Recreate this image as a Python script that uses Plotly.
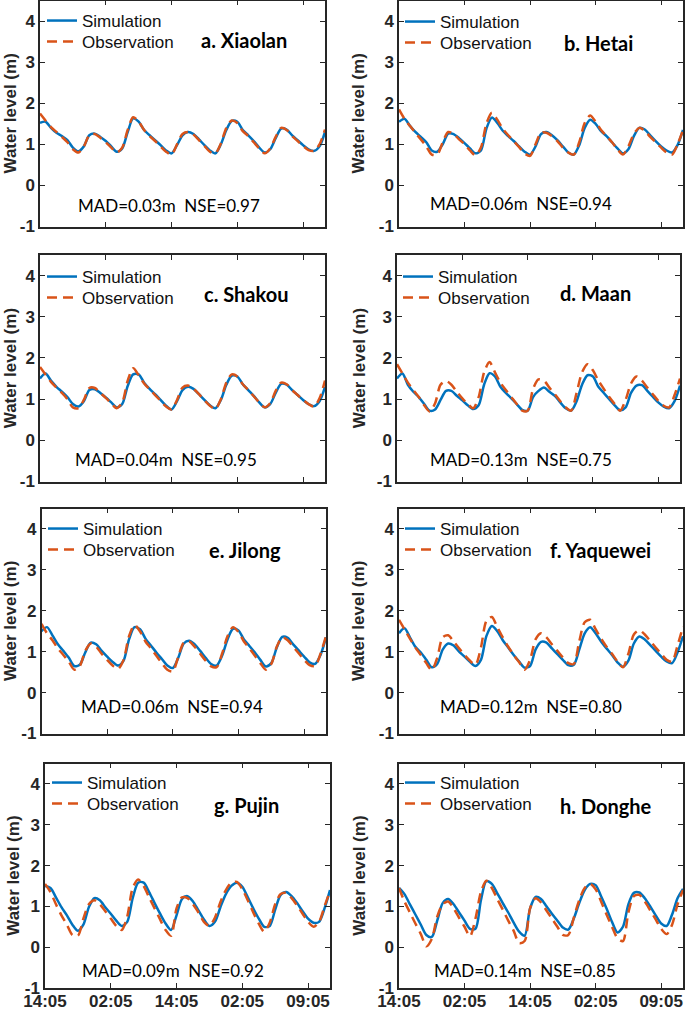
import plotly.graph_objects as go

# ---------------- data ----------------
HOURS = list(range(53))
TICK_HOURS = [0, 12, 24, 36, 48]
TICK_LABELS = ["14:05", "02:05", "14:05", "02:05", "09:05"]
Y_TICKS = [-1, 0, 1, 2, 3, 4]
Y_TICK_LABELS = ["-1", "0", "1", "2", "3", "4"]

PANEL_LABELS = ["a. Xiaolan", "b. Hetai", "c. Shakou", "d. Maan",
                "e. Jilong", "f. Yaquewei", "g. Pujin", "h. Donghe"]
MAD = [0.03, 0.06, 0.04, 0.13, 0.06, 0.12, 0.09, 0.14]
NSE = [0.97, 0.94, 0.95, 0.75, 0.94, 0.80, 0.92, 0.85]

SIM_XIAOLAN = [1.52, 1.55, 1.40, 1.28, 1.20, 1.10, 0.92, 0.83, 0.95, 1.22,
               1.26, 1.18, 1.08, 0.95, 0.82, 0.90, 1.30, 1.63, 1.55, 1.35,
               1.22, 1.10, 0.98, 0.85, 0.78, 0.98, 1.22, 1.30, 1.25, 1.12,
               0.98, 0.85, 0.78, 1.00, 1.35, 1.57, 1.55, 1.35, 1.22, 1.08,
               0.92, 0.80, 0.88, 1.15, 1.38, 1.36, 1.22, 1.10, 0.98, 0.88,
               0.84, 0.95, 1.30]
OBS_XIAOLAN = [1.75, 1.58, 1.42, 1.30, 1.18, 1.05, 0.88, 0.80, 0.95, 1.22,
               1.25, 1.16, 1.05, 0.92, 0.80, 0.92, 1.35, 1.66, 1.55, 1.35,
               1.20, 1.08, 0.95, 0.82, 0.75, 1.00, 1.25, 1.30, 1.24, 1.10,
               0.96, 0.82, 0.78, 1.02, 1.40, 1.58, 1.52, 1.32, 1.20, 1.05,
               0.90, 0.78, 0.90, 1.18, 1.40, 1.35, 1.20, 1.08, 0.96, 0.86,
               0.84, 1.00, 1.36]
SIM_HETAI = [1.55, 1.62, 1.45, 1.30, 1.18, 1.05, 0.85, 0.82, 1.00, 1.26,
             1.25, 1.15, 1.03, 0.90, 0.78, 0.85, 1.38, 1.65, 1.52, 1.33,
             1.20, 1.08, 0.95, 0.82, 0.75, 0.95, 1.25, 1.30, 1.22, 1.10,
             0.95, 0.80, 0.75, 0.98, 1.40, 1.60, 1.50, 1.32, 1.20, 1.05,
             0.90, 0.78, 0.88, 1.20, 1.40, 1.36, 1.22, 1.08, 0.95, 0.85,
             0.80, 0.98, 1.35]
OBS_HETAI = [1.85, 1.62, 1.45, 1.28, 1.12, 0.95, 0.75, 0.75, 1.05, 1.30,
             1.25, 1.12, 1.00, 0.85, 0.73, 0.92, 1.50, 1.77, 1.60, 1.38,
             1.22, 1.08, 0.93, 0.78, 0.72, 1.00, 1.28, 1.28, 1.20, 1.08,
             0.92, 0.80, 0.75, 1.05, 1.52, 1.70, 1.55, 1.35, 1.20, 1.05,
             0.88, 0.75, 0.95, 1.25, 1.40, 1.33, 1.18, 1.05, 0.92, 0.80,
             0.75, 1.00, 1.35]
SIM_SHAKOU = [1.50, 1.62, 1.45, 1.30, 1.18, 1.05, 0.88, 0.82, 0.95, 1.22,
              1.24, 1.15, 1.04, 0.92, 0.80, 0.88, 1.32, 1.60, 1.60, 1.40,
              1.25, 1.12, 0.98, 0.84, 0.75, 0.95, 1.22, 1.30, 1.25, 1.12,
              0.98, 0.85, 0.78, 0.98, 1.35, 1.57, 1.55, 1.36, 1.22, 1.08,
              0.92, 0.80, 0.88, 1.15, 1.37, 1.35, 1.22, 1.10, 0.98, 0.88,
              0.83, 0.95, 1.30]
OBS_SHAKOU = [1.78, 1.60, 1.42, 1.28, 1.15, 1.00, 0.80, 0.78, 0.98, 1.27,
              1.27, 1.15, 1.03, 0.90, 0.78, 0.92, 1.45, 1.75, 1.58, 1.38,
              1.24, 1.10, 0.96, 0.82, 0.75, 0.98, 1.28, 1.33, 1.25, 1.12,
              0.97, 0.84, 0.76, 1.00, 1.40, 1.60, 1.55, 1.36, 1.22, 1.07,
              0.92, 0.80, 0.90, 1.20, 1.40, 1.36, 1.22, 1.10, 0.98, 0.88,
              0.82, 1.02, 1.45]
SIM_MAAN = [1.50, 1.62, 1.35, 1.18, 1.05, 0.88, 0.72, 0.75, 0.98, 1.20,
            1.20, 1.08, 0.97, 0.85, 0.76, 0.85, 1.35, 1.63, 1.55, 1.30,
            1.15, 1.02, 0.88, 0.74, 0.72, 1.05, 1.20, 1.28, 1.18, 1.08,
            0.92, 0.78, 0.72, 0.95, 1.35, 1.58, 1.55, 1.30, 1.15, 1.00,
            0.85, 0.73, 0.80, 1.15, 1.33, 1.34, 1.20, 1.06, 0.92, 0.82,
            0.78, 0.95, 1.33]
OBS_MAAN = [1.85, 1.62, 1.40, 1.22, 1.05, 0.85, 0.70, 0.90, 1.35, 1.44,
            1.35, 1.18, 1.02, 0.88, 0.78, 1.05, 1.65, 1.90, 1.65, 1.40,
            1.22, 1.05, 0.88, 0.72, 0.72, 1.25, 1.48, 1.45, 1.28, 1.12,
            0.95, 0.80, 0.72, 1.15, 1.65, 1.85, 1.70, 1.45, 1.25, 1.05,
            0.88, 0.72, 0.98, 1.38, 1.55, 1.45, 1.28, 1.12, 0.96, 0.84,
            0.80, 1.10, 1.50]
SIM_JILONG = [1.50, 1.60, 1.40, 1.18, 1.02, 0.85, 0.65, 0.68, 0.98, 1.22,
              1.18, 1.02, 0.88, 0.75, 0.66, 0.78, 1.30, 1.60, 1.55, 1.32,
              1.15, 0.98, 0.82, 0.66, 0.60, 0.85, 1.20, 1.27, 1.18, 1.02,
              0.85, 0.70, 0.66, 0.90, 1.30, 1.56, 1.52, 1.30, 1.14, 0.98,
              0.80, 0.64, 0.72, 1.10, 1.36, 1.34, 1.18, 1.03, 0.88, 0.74,
              0.70, 0.92, 1.35]
OBS_JILONG = [1.68, 1.45, 1.28, 1.08, 0.92, 0.75, 0.56, 0.65, 1.02, 1.20,
              1.12, 0.95, 0.80, 0.66, 0.58, 0.80, 1.38, 1.65, 1.50, 1.25,
              1.08, 0.90, 0.72, 0.56, 0.52, 0.88, 1.22, 1.25, 1.12, 0.95,
              0.78, 0.64, 0.62, 0.95, 1.38, 1.60, 1.48, 1.25, 1.08, 0.90,
              0.72, 0.56, 0.70, 1.12, 1.35, 1.28, 1.12, 0.96, 0.80, 0.67,
              0.65, 0.95, 1.38]
SIM_YAQUEWEI = [1.45, 1.57, 1.35, 1.12, 0.98, 0.80, 0.62, 0.70, 1.05, 1.20,
                1.15, 1.00, 0.88, 0.75, 0.65, 0.80, 1.38, 1.63, 1.50, 1.28,
                1.10, 0.92, 0.76, 0.61, 0.65, 1.05, 1.24, 1.22, 1.08, 0.94,
                0.80, 0.67, 0.68, 1.05, 1.45, 1.60, 1.45, 1.25, 1.08, 0.92,
                0.74, 0.63, 0.78, 1.20, 1.37, 1.30, 1.16, 1.02, 0.88, 0.76,
                0.72, 0.98, 1.38]
OBS_YAQUEWEI = [1.78, 1.55, 1.32, 1.10, 0.92, 0.72, 0.55, 0.85, 1.35, 1.40,
                1.25, 1.08, 0.92, 0.78, 0.68, 1.10, 1.75, 1.85, 1.60, 1.35,
                1.12, 0.92, 0.74, 0.56, 0.80, 1.30, 1.45, 1.35, 1.18, 1.02,
                0.86, 0.72, 0.70, 1.25, 1.72, 1.78, 1.55, 1.32, 1.12, 0.95,
                0.76, 0.62, 0.95, 1.42, 1.52, 1.42, 1.26, 1.10, 0.95, 0.80,
                0.76, 1.15, 1.62]
SIM_PUJIN = [1.50, 1.45, 1.22, 0.98, 0.78, 0.55, 0.40, 0.55, 0.98, 1.20,
             1.15, 0.98, 0.82, 0.65, 0.52, 0.62, 1.20, 1.58, 1.58, 1.35,
             1.08, 0.82, 0.58, 0.42, 0.78, 1.18, 1.25, 1.12, 0.90, 0.68,
             0.52, 0.62, 0.98, 1.30, 1.50, 1.58, 1.48, 1.22, 0.95, 0.70,
             0.50, 0.52, 0.92, 1.28, 1.35, 1.25, 1.08, 0.88, 0.70, 0.60,
             0.62, 0.95, 1.40]
OBS_PUJIN = [1.55, 1.35, 1.05, 0.78, 0.55, 0.30, 0.28, 0.70, 1.05, 1.15,
             1.05, 0.88, 0.70, 0.52, 0.42, 0.75, 1.45, 1.66, 1.50, 1.22,
             0.95, 0.68, 0.42, 0.28, 0.95, 1.22, 1.20, 1.05, 0.85, 0.62,
             0.52, 0.72, 1.10, 1.40, 1.58, 1.60, 1.42, 1.15, 0.85, 0.58,
             0.38, 0.60, 1.05, 1.30, 1.33, 1.20, 1.02, 0.82, 0.62, 0.50,
             0.62, 1.00, 1.38]
SIM_DONGHE = [1.45, 1.30, 1.05, 0.80, 0.55, 0.30, 0.25, 0.65, 1.08, 1.18,
              1.05, 0.85, 0.65, 0.45, 0.45, 1.15, 1.62, 1.55, 1.32, 1.08,
              0.85, 0.60, 0.38, 0.28, 0.95, 1.23, 1.18, 1.00, 0.82, 0.65,
              0.48, 0.43, 0.70, 1.08, 1.40, 1.55, 1.52, 1.25, 0.95, 0.62,
              0.36, 0.50, 1.05, 1.33, 1.34, 1.20, 1.00, 0.78, 0.58, 0.52,
              0.80, 1.20, 1.43]
OBS_DONGHE = [1.45, 1.12, 0.85, 0.58, 0.32, 0.02, 0.20, 0.75, 1.05, 1.12,
              0.95, 0.72, 0.50, 0.27, 0.70, 1.35, 1.63, 1.45, 1.18, 0.92,
              0.65, 0.40, 0.10, 0.15, 0.95, 1.20, 1.10, 0.90, 0.70, 0.50,
              0.30, 0.30, 0.72, 1.15, 1.45, 1.55, 1.42, 1.12, 0.80, 0.50,
              0.22, 0.15, 0.85, 1.25, 1.28, 1.12, 0.90, 0.68, 0.45, 0.32,
              0.55, 1.05, 1.40]

SIMULATION = [SIM_XIAOLAN, SIM_HETAI, SIM_SHAKOU, SIM_MAAN,
              SIM_JILONG, SIM_YAQUEWEI, SIM_PUJIN, SIM_DONGHE]
OBSERVATION = [OBS_XIAOLAN, OBS_HETAI, OBS_SHAKOU, OBS_MAAN,
               OBS_JILONG, OBS_YAQUEWEI, OBS_PUJIN, OBS_DONGHE]

# ---------------- layout geometry (pixels) ----------------
W, H = 685, 1010
# left, right, top, bottom of each plot box
BOXES = [(40, 325, 0.5, 226.5), (399, 683, 0.5, 226.5),
         (40, 325, 255, 481.5), (397, 680, 255, 481.5),
         (41.5, 326, 508.5, 733.5), (399, 683, 508.5, 733.5),
         (45, 330, 763.5, 988), (399, 683, 763.5, 988)]
LABEL_POS = [(199, 40), (562, 43), (202, 294), (558, 293),
             (207, 550), (548, 550), (212, 805), (558, 806)]
STAT_POS = [(76, 206), (428, 204), (73, 460), (428, 460),
            (79, 706), (438, 706), (80, 970), (432, 970)]
LEGEND_POS = [(52, 21), (410, 22), (52, 277), (408, 277),
              (53, 529), (410, 529), (57, 783), (410, 783)]
YTITLE_X = [10, 358, 10, 359, 10, 358, 14, 360]

BLUE = "#0072BD"
ORANGE = "#D95319"
AX = "#262626"
TICK_FONT = dict(family="Liberation Sans, Arial", size=17, color=AX, weight="bold")


def px_x(v):
    return v / W


def px_y(v):
    return 1 - v / H


fig = go.Figure()
layout = dict(width=W, height=H,
              margin=dict(l=0, r=0, t=0, b=0, pad=0, autoexpand=False),
              paper_bgcolor="white", plot_bgcolor="white", annotations=[])

for i in range(8):
    sfx = "" if i == 0 else str(i + 1)
    l, r, t, b = BOXES[i]
    leg_sim = "legend" if i == 0 else f"legend{2 * i + 1}"
    leg_obs = f"legend{2 * i + 2}"
    fig.add_trace(go.Scatter(
        x=HOURS, y=SIMULATION[i], mode="lines", name="Simulation",
        line=dict(color=BLUE, width=2.5, shape="spline", smoothing=0.8),
        xaxis="x" + sfx, yaxis="y" + sfx, legend=leg_sim, hoverinfo="skip"))
    fig.add_trace(go.Scatter(
        x=HOURS, y=OBSERVATION[i], mode="lines", name="Observation",
        line=dict(color=ORANGE, width=2.5, dash="10px,6px", shape="spline", smoothing=0.8),
        xaxis="x" + sfx, yaxis="y" + sfx, legend=leg_obs, hoverinfo="skip"))

    common = dict(ticks="inside", ticklen=5, tickwidth=1.3, tickcolor=AX,
                  showline=True, linecolor=AX, linewidth=1.5, mirror="ticks",
                  showgrid=False, zeroline=False, tickfont=TICK_FONT,
                  fixedrange=True, automargin=False)
    layout["xaxis" + sfx] = dict(
        domain=[px_x(l), px_x(r)], range=[0, 52], tickmode="array",
        tickvals=TICK_HOURS, ticktext=TICK_LABELS, ticklabelstandoff=-3,
        showticklabels=(i >= 6), anchor="y" + sfx, **common)
    layout["yaxis" + sfx] = dict(
        domain=[px_y(b), px_y(t)], range=[-1, 4.5], tickmode="array",
        tickvals=Y_TICKS, ticktext=Y_TICK_LABELS, anchor="x" + sfx, **common)

    lx, ly = LEGEND_POS[i]
    for k, leg in enumerate([leg_sim, leg_obs]):
        layout[leg] = dict(
            x=px_x(lx - 10), y=px_y(ly + 21 * k), xanchor="left", yanchor="middle",
            bgcolor="rgba(0,0,0,0)", borderwidth=0, itemwidth=30,
            font=dict(family="Liberation Sans, Arial", size=17, color="#111111"))

    ax_, ay_ = LABEL_POS[i]
    layout["annotations"].append(dict(
        text=PANEL_LABELS[i], xref="paper", yref="paper", x=px_x(ax_), y=px_y(ay_),
        xanchor="left", yanchor="middle", showarrow=False,
        font=dict(family="Lato, Open Sans", size=20, color="#000000", weight="bold")))
    sx, sy = STAT_POS[i]
    layout["annotations"].append(dict(
        text=f"MAD={MAD[i]:.2f}m\u00a0 NSE={NSE[i]:.2f}", xref="paper", yref="paper",
        x=px_x(sx), y=px_y(sy), xanchor="left", yanchor="middle", showarrow=False,
        font=dict(family="Lato, Open Sans", size=17, color="#000000")))
    layout["annotations"].append(dict(
        text="Water level (m)", xref="paper", yref="paper", textangle=-90,
        x=px_x(YTITLE_X[i]), y=px_y((t + b) / 2), xanchor="center", yanchor="middle",
        showarrow=False,
        font=dict(family="Liberation Sans, Arial", size=17, color=AX, weight="bold")))

fig.update_layout(**layout)
fig.update_layout(showlegend=True)

fig.write_html("out.html", config={"displayModeBar": False},
               post_script="document.body.style.margin='0';")
